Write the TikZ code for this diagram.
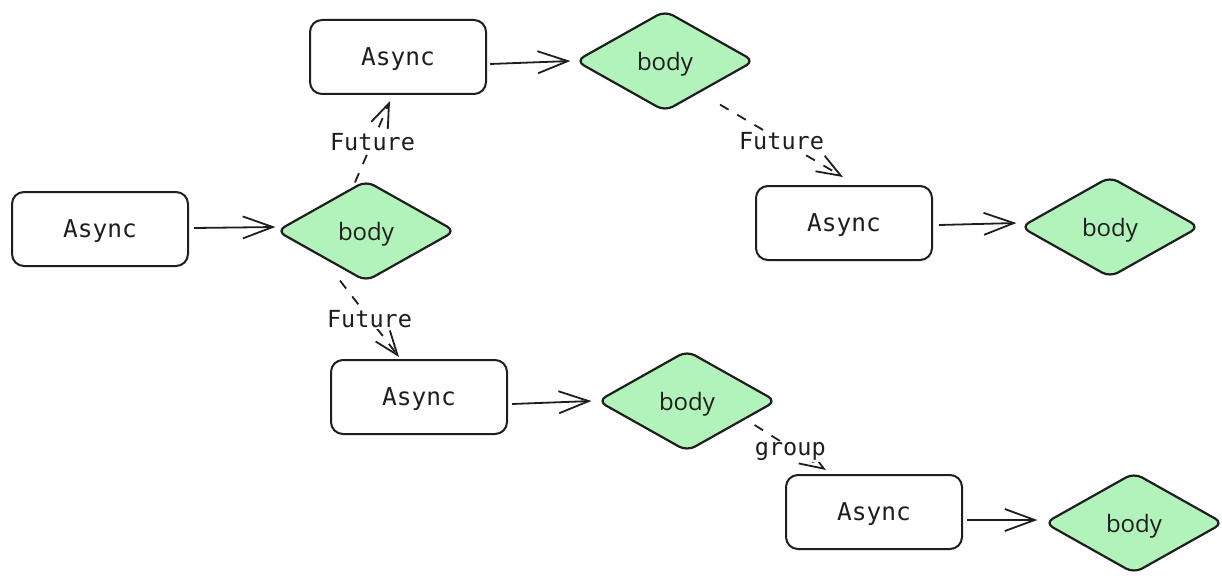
\documentclass[tikz,border=0pt]{standalone}
\usepackage{fontspec}
\setmainfont{Open Sans}
\newfontfamily\codefont{DejaVu Sans Mono}
\usetikzlibrary{shapes.geometric,arrows.meta,calc}
\definecolor{ink}{HTML}{1E1E1E}
\definecolor{leaf}{HTML}{B2F2BB}
\tikzset{
  task/.style={draw=ink, line width=2pt, rounded corners=12pt, minimum width=176pt,
    minimum height=74pt, inner sep=0pt, text=ink, text depth=0pt,
    font=\codefont\fontsize{24.5}{26}\selectfont},
  leafnode/.style={diamond, draw=ink, fill=leaf, line width=2.2pt, rounded corners=9pt,
    minimum width=179pt, minimum height=101pt, inner sep=0pt, text=ink, text depth=0pt,
    font=\fontsize{24}{26}\selectfont},
  flow/.style={draw=ink, line width=1.8pt, -{Straight Barb[length=30pt,width=22pt,line width=1.8pt]}},
  spawn/.style={draw=ink, line width=1.8pt, dash pattern=on 10pt off 10pt,
    -{Straight Barb[length=24pt,width=18pt,line width=1.8pt]}},
  tag/.style={fill=white, inner sep=1pt, text=ink, font=\codefont\fontsize{23.5}{24}\selectfont}
}
\begin{document}
\begin{tikzpicture}[x=1pt,y=-1pt]
\useasboundingbox (0,0) rectangle (1222,575);

% tasks
\node[task] (A1) at (100,229) {Async};
\node[task] (A2) at (398,57) {Async};
\node[task] (A3) at (844,223) {Async};
\node[task] (A4) at (419,397) {Async};
\node[task] (A5) at (874,512) {Async};

% bodies
\node[leafnode] (D1) at (366,231) {body};
\node[leafnode] (D2) at (665,61) {body};
\node[leafnode] (D3) at (1110,227) {body};
\node[leafnode] (D4) at (687,401) {body};
\node[leafnode] (D5) at (1134,523) {body};

% each task runs its body
\draw[flow] ($(A1.east)+(5,-1)$) -- ($(D1.west)+(0,-4)$);
\draw[flow] ($(A2.east)+(3,7)$) -- ($(D2.west)+(-4,0)$);
\draw[flow] ($(A3.east)+(6,2)$) -- ($(D3.west)+(-3,-4)$);
\draw[flow] ($(A4.east)+(4,7)$) -- ($(D4.west)+(-5,0)$);
\draw[flow] ($(A5.east)+(4,8)$) -- ($(D5.west)+(-6,-3)$);

% bodies spawning further tasks
\draw[spawn] ($(D1.north)+(-11,3)$) -- node[tag] {Future} ($(A2.south)+(-8,6)$);
\draw[spawn] ($(D2.south)+(55,-8)$) -- node[tag] {Future} ($(A3.north)+(-1,-8)$);
\draw[spawn] ($(D1.south)+(-26,-2)$) -- node[tag] {Future} ($(A4.north)+(-20,-2)$);
\draw[spawn] ($(D4.east)+(-23,24)$) -- node[tag, yshift=-4pt] {group} ($(A5.north)+(-48,-4)$);
\end{tikzpicture}
\end{document}
